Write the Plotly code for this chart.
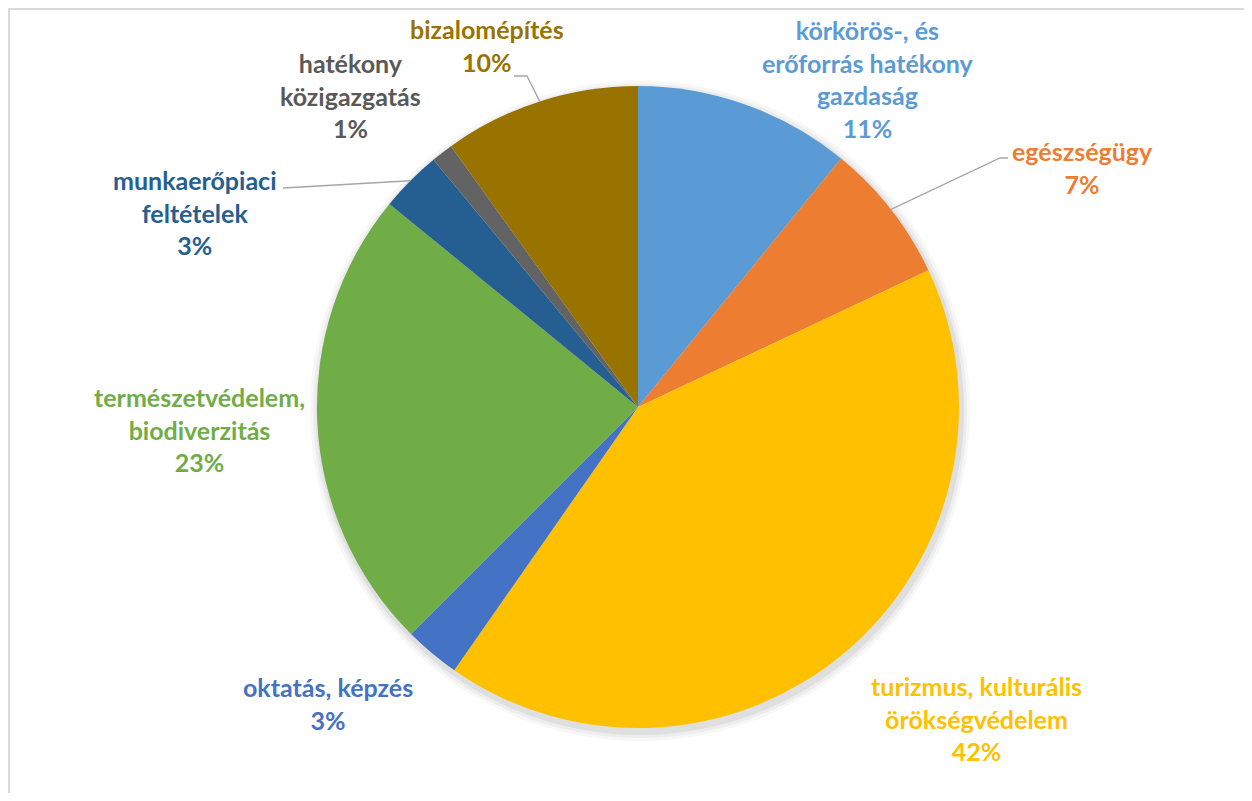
import math
import plotly.graph_objects as go

# ---- data ----
categories = [
    "körkörös-, és erőforrás hatékony gazdaság",
    "egészségügy",
    "turizmus, kulturális örökségvédelem",
    "oktatás, képzés",
    "természetvédelem, biodiverzitás",
    "munkaerőpiaci feltételek",
    "hatékony közigazgatás",
    "bizalomépítés",
]
display_names = [
    "körkörös-, és<br>erőforrás hatékony<br>gazdaság",
    "egészségügy",
    "turizmus, kulturális<br>örökségvédelem",
    "oktatás, képzés",
    "természetvédelem,<br>biodiverzitás",
    "munkaerőpiaci<br>feltételek",
    "hatékony<br>közigazgatás",
    "bizalomépítés",
]
shares = [10.9, 7.1, 41.7, 2.8, 23.4, 3.1, 1.1, 9.9]

# ---- styles ----
colors = ["#5B9BD5", "#ED7D31", "#FFC000", "#4472C4", "#70AD47", "#255E91", "#636363", "#997300"]
label_colors = ["#5B9BD5", "#ED7D31", "#FFC000", "#4472C4", "#70AD47", "#255E91", "#595959", "#997300"]

OFF = 8  # page body margin
W, H = 1252 - 2 * OFF, 801 - 2 * OFF
# label block centres (screen pixels)
label_pos = [(868, 79), (1082, 168), (976, 718), (328, 703), (200, 429), (195, 213), (350, 96), (487, 46)]
# leader line points after the pie edge (screen pixels)
leaders = {1: [(1000, 158), (1008, 158)], 5: [(283, 188)], 7: [(527, 76), (514, 76)]}

# pie bounding box on screen
pie_left, pie_right, pie_top, pie_bottom = 317, 959, 86, 728


def px(x, y):
    return (x - OFF) / W, 1 - (y - OFF) / H


dx0, dy1 = px(pie_left, pie_top)
dx1, dy0 = px(pie_right, pie_bottom)

fig = go.Figure()
fig.add_trace(go.Pie(
    labels=categories,
    values=shares,
    sort=False,
    direction="clockwise",
    rotation=0,
    marker=dict(colors=colors, line=dict(width=0)),
    textinfo="none",
    hoverinfo="label+percent",
    showlegend=False,
    domain=dict(x=[dx0, dx1], y=[dy0, dy1]),
))

cx_px = (pie_left + pie_right) / 2
cy_px = (pie_top + pie_bottom) / 2
R = min(pie_right - pie_left, pie_bottom - pie_top) / 2

total = sum(shares)
cum = 0.0
mids = []
for v in shares:
    mids.append((cum + v / 2) / total * 2 * math.pi)
    cum += v

shapes = []
# soft shadow behind pie
for grow, alpha in [(9, 0.03), (6, 0.04), (3, 0.06)]:
    x0, y0 = px(cx_px - R - grow + 2, cy_px - R - grow + 4)
    x1, y1 = px(cx_px + R + grow + 2, cy_px + R + grow + 4)
    shapes.append(dict(type="circle", xref="paper", yref="paper", x0=x0, x1=x1, y0=y1, y1=y0,
                       line=dict(width=0), fillcolor=f"rgba(0,0,0,{alpha})", layer="below"))

# frame
fx0, fy1 = px(9, 9)
fx1, fy0 = px(1300, 850)
shapes.append(dict(type="rect", xref="paper", yref="paper", x0=fx0, x1=fx1, y0=fy0, y1=fy1,
                   line=dict(color="#D9D9D9", width=2), fillcolor="rgba(0,0,0,0)", layer="below"))

# leader lines
for idx, pts in leaders.items():
    a = mids[idx]
    sx = cx_px + R * math.sin(a)
    sy = cy_px - R * math.cos(a)
    path = "M {:.5f},{:.5f}".format(*px(sx, sy))
    for (x, y) in pts:
        path += " L {:.5f},{:.5f}".format(*px(x, y))
    shapes.append(dict(type="path", xref="paper", yref="paper", path=path,
                       line=dict(color="#A6A6A6", width=1.3)))

annotations = []
for name, v, col, (lx, ly) in zip(display_names, shares, label_colors, label_pos):
    pct = round(v / total * 100)
    ax, ay = px(lx, ly)
    annotations.append(dict(
        x=ax, y=ay, xref="paper", yref="paper", xanchor="center", yanchor="middle",
        text=f"<b>{name}<br>{pct}%</b>", showarrow=False, align="center",
        font=dict(family="Lato, sans-serif", size=25, color=col),
    ))

fig.update_layout(
    width=W, height=H,
    margin=dict(l=0, r=0, t=0, b=0),
    paper_bgcolor="white", plot_bgcolor="white",
    shapes=shapes, annotations=annotations,
    showlegend=False,
)

fig.write_html("out.html")
